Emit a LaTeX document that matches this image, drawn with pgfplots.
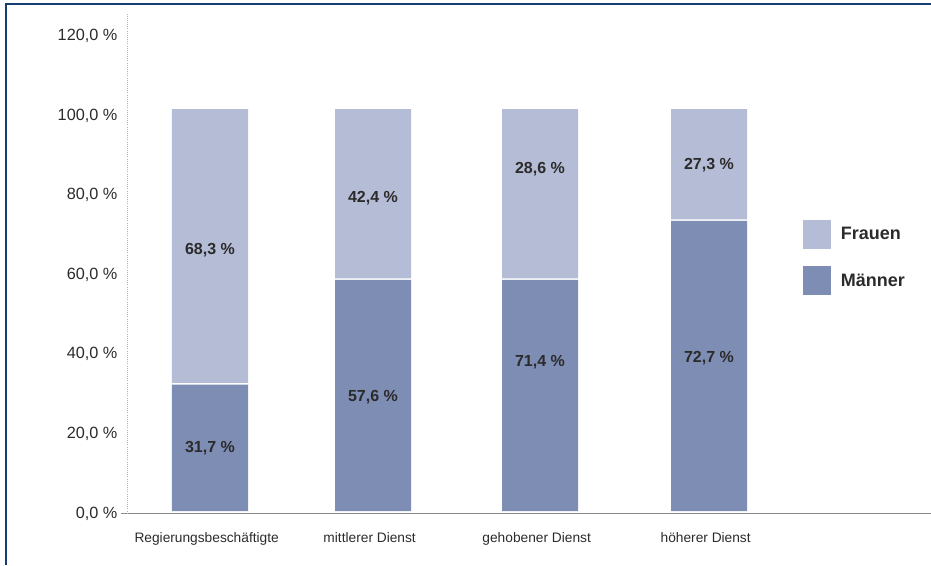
\documentclass[border=0pt]{standalone}
\usepackage{fontspec}
\setmainfont{Liberation Sans}
\usepackage{pgfplots}
\pgfplotsset{compat=1.18}
\definecolor{frauen}{HTML}{B5BCD6}
\definecolor{maenner}{HTML}{7E8DB3}
\definecolor{rahmen}{HTML}{153D72}
\definecolor{txt}{HTML}{2B2B2B}
\definecolor{achse}{HTML}{8A8A8A}

\begin{document}
\begin{tikzpicture}
\path[use as bounding box] (-95.25pt,-38.625pt) rectangle (603pt,385.125pt);
\begin{axis}[
  at={(0pt,0pt)}, anchor=south west,
  scale only axis, width=603pt, height=374.625pt,
  xmin=127, xmax=931, ymin=0, ymax=125.5,
  ybar stacked, bar width=57pt,
  axis lines=left,
  x axis line style={draw=achse, line width=1.1pt, -},
  y axis line style={draw=gray!60, densely dotted, line width=0.6pt, -},
  tick style={draw=achse, line width=1.1pt},
  major tick length=0pt,
  xtick={210,373,540,709},
  xticklabels={Regierungsbeschäftigte, mittlerer Dienst, gehobener Dienst, höherer Dienst},
  xticklabel style={anchor=base, yshift=-21.8pt, xshift=-2.5pt, font=\fontsize{10.3}{12}\selectfont, text=txt},
  ytick={0,20,...,120},
  yticklabel={\pgfmathprintnumber[fixed,fixed zerofill,precision=1,use comma,assume math mode=true]{\tick}~\%},
  yticklabel style={anchor=east, inner sep=0pt, xshift=-7pt, font=\fontsize{12.2}{14}\selectfont, text=txt},
  extra y ticks={0}, extra y tick labels={},
  extra y tick style={major tick length=4.5pt, tick align=outside},
  legend style={at={(0.8408,0.5876)}, anchor=north west, draw=none, fill=none,
    inner sep=0pt, row sep=12.75pt, font=\bfseries\fontsize{13.5}{15}\selectfont,
    text=txt, cells={anchor=west}},
  legend image code/.code={\fill[#1] (0pt,-10.9pt) rectangle (21pt,10.9pt); \path (26.25pt,0pt);},
  reverse legend,
]
\addplot[draw=none, fill=none, forget plot] coordinates {(210,0.6) (373,0.6) (540,0.6) (709,0.6)};
\addplot[draw=none, fill=maenner] coordinates {(210,31.8) (373,58.1) (540,58.1) (709,72.9)};
\addplot[draw=none, fill=none, forget plot] coordinates {(210,0.4) (373,0.4) (540,0.4) (709,0.4)};
\addplot[draw=none, fill=frauen] coordinates {(210,68.8) (373,42.5) (540,42.5) (709,27.7)};
\legend{Männer, Frauen}
\end{axis}
\begin{axis}[
  at={(0pt,0pt)}, anchor=south west,
  scale only axis, width=603pt, height=374.625pt,
  xmin=127, xmax=931, ymin=0, ymax=125.5,
  hide axis, clip=false,
]
\addplot[only marks, mark=*, mark size=0pt, mark options={draw=none, fill=none},
  nodes near coords, point meta=explicit symbolic,
  nodes near coords style={anchor=center, inner sep=0pt, font=\bfseries\fontsize{12}{14}\selectfont, text=txt}]
  coordinates {
  (210,16.5) [{31,7~\%}]
  (373,29.3) [{57,6~\%}]
  (540,37.9) [{71,4~\%}]
  (709,39.0) [{72,7~\%}]
  (210,66.2) [{68,3~\%}]
  (373,79.2) [{42,4~\%}]
  (540,86.6) [{28,6~\%}]
  (709,87.6) [{27,3~\%}]
  };
\end{axis}
\draw[color=rahmen, line width=1.8pt] (-90.75pt,-38.625pt) -- (-90.75pt,381.98pt) -- (603pt,381.98pt);
\end{tikzpicture}
\end{document}
